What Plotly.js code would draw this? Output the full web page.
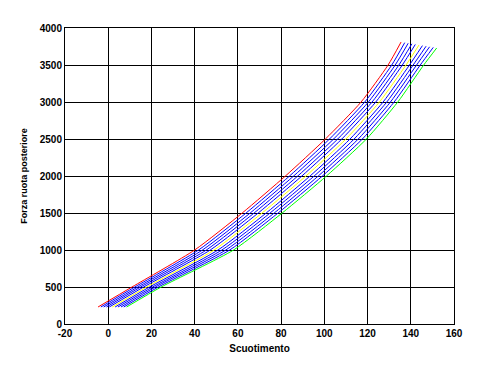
<!DOCTYPE html>
<html>
<head>
<meta charset="utf-8">
<script src="https://cdn.plot.ly/plotly-3.0.1.min.js"></script>
<style>html,body{margin:0;padding:0;background:#fff;}#chart{width:504px;height:365px;}</style>
</head>
<body>
<div id="chart"></div>
<script>
// Force levels (Forza ruota posteriore) at which each curve's Scuotimento is read
var forceLevels = [230, 500, 1000, 1500, 2000, 2500, 3000, 3500];
// Final force value of each curve (last point)
var endForce = [3810, 3802, 3794, 3786, 3778, 3770, 3762, 3754, 3746, 3738, 3730];

// Scuotimento values of each curve at forceLevels, plus final point
var xRed    = [-4.7, 11.0, 40.0, 62.0, 82.0, 100.5, 117.0, 129.5, 135.5];
var xBlue1  = [-3.4, 12.3, 41.8, 63.8, 83.9, 102.4, 118.7, 131.2, 137.2];
var xBlue2  = [-2.1, 13.7, 43.6, 65.7, 85.8, 104.3, 120.4, 132.8, 138.8];
var xBlue3  = [-0.8, 15.0, 45.4, 67.5, 87.7, 106.2, 122.1, 134.5, 140.5];
var xBlue4  = [0.5, 16.4, 47.2, 69.4, 89.6, 108.1, 123.8, 136.1, 142.1];
var xYellow = [1.9, 17.8, 49.0, 71.2, 91.5, 110.0, 125.5, 137.8, 143.8];
var xBlue5  = [3.2, 19.1, 50.8, 73.1, 93.4, 111.9, 127.2, 139.4, 145.4];
var xBlue6  = [4.5, 20.5, 52.6, 74.9, 95.3, 113.8, 128.9, 141.1, 147.1];
var xBlue7  = [5.9, 21.8, 54.4, 76.8, 97.2, 115.7, 130.6, 142.7, 148.7];
var xBlue8  = [7.2, 23.2, 56.2, 78.6, 99.1, 117.6, 132.3, 144.4, 150.4];
var xGreen  = [8.5, 24.5, 58.0, 80.5, 101.0, 119.5, 134.0, 146.0, 152.0];

var curves = [xRed, xBlue1, xBlue2, xBlue3, xBlue4, xYellow, xBlue5, xBlue6, xBlue7, xBlue8, xGreen];
var curveColors = ['#ff0000', '#0000ff', '#0000ff', '#0000ff', '#0000ff', '#ffff00',
                   '#0000ff', '#0000ff', '#0000ff', '#0000ff', '#00ff00'];

var xTicks = [-20, 0, 20, 40, 60, 80, 100, 120, 140, 160];
var yTicks = [0, 500, 1000, 1500, 2000, 2500, 3000, 3500, 4000];

var traces = curves.map(function (xs, i) {
  return {
    x: xs,
    y: forceLevels.concat([endForce[i]]),
    type: 'scatter',
    mode: 'lines',
    line: {color: curveColors[i], width: 1, shape: 'spline', smoothing: 0.6},
    hoverinfo: 'skip',
    showlegend: false
  };
});

var tickFont = {family: 'Liberation Sans, Arial, sans-serif', size: 10, color: '#000', weight: 'bold'};

var layout = {
  width: 504,
  height: 365,
  margin: {l: 65, r: 50, t: 28, b: 41, pad: 0},
  paper_bgcolor: '#ffffff',
  plot_bgcolor: '#ffffff',
  showlegend: false,
  xaxis: {
    range: [-20, 160],
    tickmode: 'array',
    tickvals: xTicks,
    ticktext: xTicks.map(String),
    showgrid: true,
    gridcolor: '#000000',
    gridwidth: 1,
    zeroline: false,
    showline: true,
    linecolor: '#000000',
    linewidth: 1,
    mirror: true,
    ticks: '',
    tickfont: tickFont,
    title: {text: 'Scuotimento', font: tickFont, standoff: 6}
  },
  yaxis: {
    range: [0, 4000],
    tickmode: 'array',
    tickvals: yTicks,
    ticktext: yTicks.map(String),
    showgrid: true,
    gridcolor: '#000000',
    gridwidth: 1,
    zeroline: false,
    showline: true,
    linecolor: '#000000',
    linewidth: 1,
    mirror: true,
    ticks: '',
    tickfont: tickFont,
    title: {text: 'Forza ruota posteriore', font: {family: 'Liberation Sans, Arial, sans-serif', size: 9, color: '#000', weight: 'bold'}, standoff: 10}
  }
};

Plotly.newPlot('chart', traces, layout, {staticPlot: true, displayModeBar: false});
</script>
</body>
</html>
